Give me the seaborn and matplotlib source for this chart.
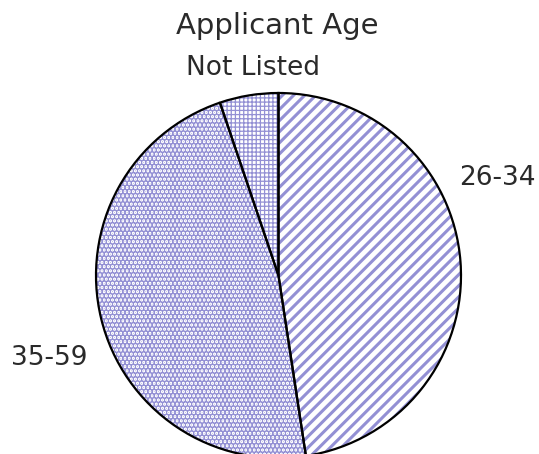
import matplotlib
matplotlib.use("Agg")
import matplotlib.pyplot as plt
import seaborn as sns

categories = ["26-34", "35-59", "Not Listed"]
shares = [47.6, 47.2, 5.2]
hatches = ["///", "....", "++++"]
title = "Applicant Age"

sns.set_theme(style="white")
plt.rcParams["font.family"] = ["DejaVu Sans"]

HATCH_COLOR = "#9390d4"
HATCH_LW = [2.2, 3.0, 0.9]

fig = plt.figure(figsize=(5.39, 4.54), dpi=100)
W, H = 539, 454
cx, cy, r = 278.5, 275.5, 182.5
ax = fig.add_axes([(cx - r) / W, (H - cy - r) / H, 2 * r / W, 2 * r / H])

for i in range(len(shares)):
    plt.rcParams["hatch.linewidth"] = HATCH_LW[i]
    ws, _ = ax.pie(shares, startangle=90, counterclock=False,
                   colors=["white"] * len(shares),
                   wedgeprops=dict(edgecolor=HATCH_COLOR, linewidth=0))
    for j, w in enumerate(ws):
        if j != i:
            w.remove()
    ws[i].set_hatch(hatches[i])
    if hasattr(ws[i], "set_hatch_linewidth"):
        ws[i].set_hatch_linewidth(HATCH_LW[i])

ax.pie(shares, startangle=90, counterclock=False,
       wedgeprops=dict(fill=False, edgecolor="black", linewidth=1.6))
ax.set_xlim(-1, 1)
ax.set_ylim(-1, 1)
ax.set_aspect("equal")
ax.axis("off")

label_pos = {"26-34": (1.197, 0.534), "35-59": (-1.258, -0.452), "Not Listed": (-0.14, 1.137)}
for c in categories:
    x, y = label_pos[c]
    ax.text(x, y, c, ha="center", va="center", fontsize=19, color="#2a2a2a", clip_on=False)

fig.text(277 / W, 1 - 26 / H, title, ha="center", va="center", fontsize=21, color="#2a2a2a")

fig.savefig("out.png", dpi=100)
